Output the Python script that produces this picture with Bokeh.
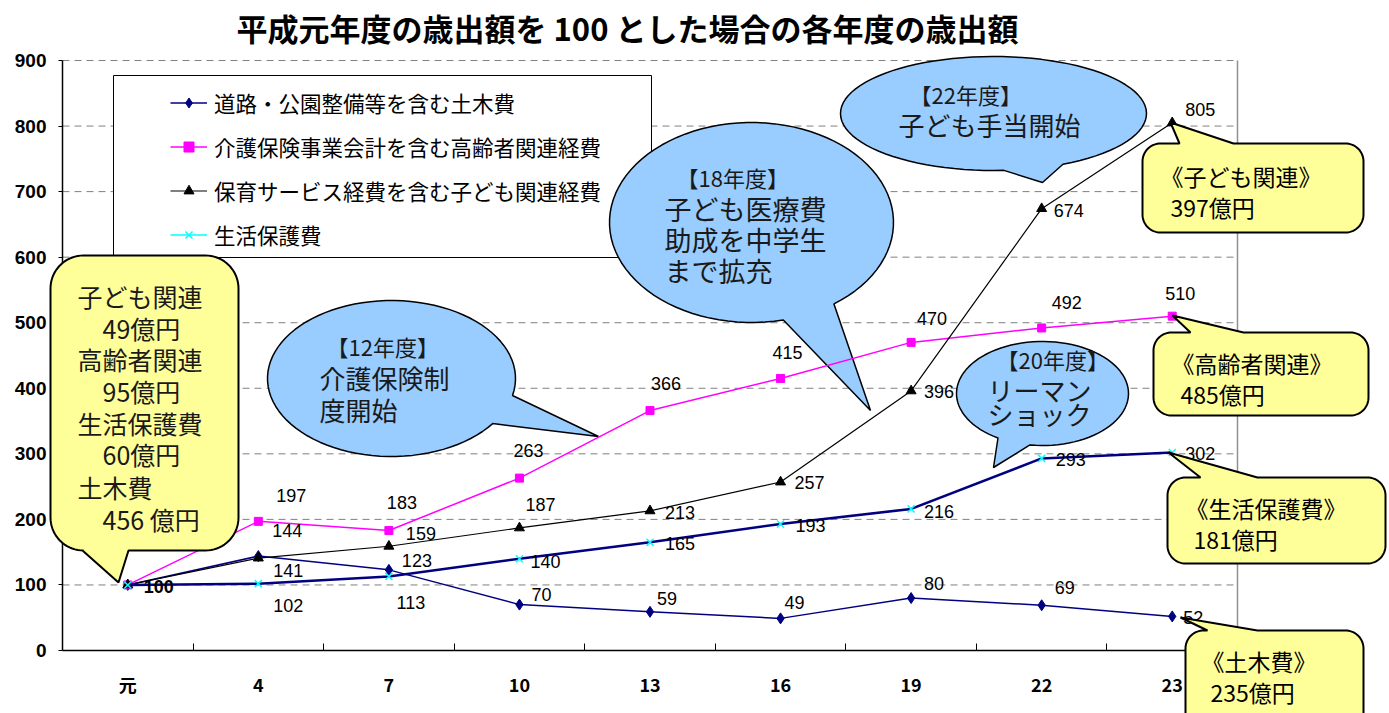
import math
from bokeh.plotting import figure
from bokeh.models import Range1d, LinearAxis, FixedTicker, Legend, LegendItem
from bokeh.core.properties import value
from bokeh.embed import file_html
from bokeh.resources import INLINE

# ---------------- data ----------------
categories = ["元", "4", "7", "10", "13", "16", "19", "22", "23"]
doboku = [100, 144, 123, 70, 59, 49, 80, 69, 52]
koureisha = [100, 197, 183, 263, 366, 415, 470, 492, 510]
kodomo = [100, 141, 159, 187, 213, 257, 396, 674, 805]
seikatsu = [100, 102, 113, 140, 165, 193, 216, 293, 302]
y_ticks = [0, 100, 200, 300, 400, 500, 600, 700, 800, 900]
series_labels = ["道路・公園整備等を含む土木費",
                 "介護保険事業会計を含む高齢者関連経費",
                 "保育サービス経費を含む子ども関連経費",
                 "生活保護費"]
title_text = "平成元年度の歳出額を 100 とした場合の各年度の歳出額"

# data-label offsets in screen px (dx, dy downwards)
doboku_off = [(31, 2), (29, -26), (28, -9), (22, -10), (17, -13), (14, -16), (23, -15), (23, -18), (21, 1)]
koureisha_off = [(0, 0), (33, -26), (13, -28), (9, -28), (16, -27), (7, -26), (21, -24), (25, -25), (8, -23)]
kodomo_off = [(0, 0), (30, 12), (32, -13), (21, -23), (30, 2), (29, 0), (28, 1), (27, 2), (28, -13)]
seikatsu_off = [(0, 0), (30, 22), (22, 26), (26, 3), (30, 1), (30, 2), (28, 3), (29, 1), (28, 1)]

# ---------------- geometry helpers ----------------
W, H = 1389, 713
PL, PR, PT, PB = 62, 1237, 60, 650
n = len(categories)
XS = (PR - PL) / n
YS = (PB - PT) / y_ticks[-1]


def X(px):
    return (px - PL) / XS - 0.5


def Y(py):
    return (PB - py) / YS


JP = "Noto Sans CJK JP"
NUM = "Liberation Sans"

p = figure(width=W, height=H, x_range=Range1d(X(0), X(W)), y_range=Range1d(Y(H), Y(0)),
           x_axis_type=None, y_axis_type=None, output_backend="svg",
           toolbar_location=None, min_border=0, outline_line_color=None, title=None)
p.background_fill_color = "white"
p.border_fill_color = "white"

xi = list(range(n))

# ---------------- axes ----------------
xaxis = LinearAxis(fixed_location=0, bounds=(-0.5, n - 0.5),
                   ticker=FixedTicker(ticks=xi, minor_ticks=[i + 0.5 for i in range(n - 1)]),
                   major_label_overrides={i: c for i, c in enumerate(categories)})
xaxis.level = "underlay"
xaxis.axis_line_color = "black"
xaxis.axis_line_width = 1.5
xaxis.major_tick_line_color = None
xaxis.major_tick_in = 0
xaxis.major_tick_out = 0
xaxis.minor_tick_in = 7
xaxis.minor_tick_out = 0
xaxis.minor_tick_line_color = "black"
xaxis.major_label_standoff = 20
xaxis.major_label_text_font = JP
xaxis.major_label_text_font_size = "18px"
xaxis.major_label_text_font_style = "bold"
xaxis.major_label_text_color = "black"
p.add_layout(xaxis, "below")

yaxis = LinearAxis(fixed_location=-0.5, bounds=(0, y_ticks[-1]), ticker=FixedTicker(ticks=y_ticks))
yaxis.level = "underlay"
yaxis.axis_line_color = "black"
yaxis.axis_line_width = 1.5
yaxis.major_tick_in = 0
yaxis.major_tick_out = 4
yaxis.major_tick_line_color = "black"
yaxis.minor_tick_line_color = None
yaxis.major_label_standoff = 12
yaxis.major_label_text_font = NUM
yaxis.major_label_text_font_size = "19px"
yaxis.major_label_text_font_style = "bold"
yaxis.major_label_text_color = "black"
p.add_layout(yaxis, "left")

# dashed gridlines
gy = y_ticks[1:]
p.segment(x0=[-0.5] * len(gy), x1=[n - 0.5] * len(gy), y0=gy, y1=gy,
          line_color="#808080", line_width=1, line_dash="7 5", level="underlay")
# right edge of plot area
p.segment(x0=[n - 0.5], x1=[n - 0.5], y0=[0], y1=[y_ticks[-1]], line_color="#909090", line_width=1.5)

# legend frame
p.quad(left=[X(113)], right=[X(651)], top=[Y(75)], bottom=[Y(257)],
       fill_color="white", line_color="black", line_width=1, level="underlay")


# ---------------- callout shapes ----------------
def arc(cx, cy, rx, ry, t0, t1, k=18):
    return [(cx + rx * math.cos(t0 + (t1 - t0) * j / k), cy + ry * math.sin(t0 + (t1 - t0) * j / k))
            for j in range(k + 1)]


def bubble(cx, cy, rx, ry, b1, b2, tip):
    a = math.atan2((b1[1] - cy) / ry, (b1[0] - cx) / rx) % (2 * math.pi)
    b = math.atan2((b2[1] - cy) / ry, (b2[0] - cx) / rx) % (2 * math.pi)
    if (b - a) % (2 * math.pi) > math.pi:
        a, b = b, a
    end = a
    while end < b:
        end += 2 * math.pi
    while end - b > 2 * math.pi:
        end -= 2 * math.pi
    pts = arc(cx, cy, rx, ry, b, end, 90)
    pts.append(tip)
    return [X(q[0]) for q in pts], [Y(q[1]) for q in pts]


def rcallout(x0, y0, x1, y1, r, side, b1, b2, tip):
    pts = [(x0 + r, y0)]
    if side == "top":
        pts += [(b1, y0), tip, (b2, y0)]
    pts += arc(x1 - r, y0 + r, r, r, -math.pi / 2, 0)
    pts += arc(x1 - r, y1 - r, r, r, 0, math.pi / 2)
    if side == "bottom":
        pts += [(b2, y1), tip, (b1, y1)]
    pts += arc(x0 + r, y1 - r, r, r, math.pi / 2, math.pi)
    pts += arc(x0 + r, y0 + r, r, r, math.pi, 1.5 * math.pi)
    return [X(q[0]) for q in pts], [Y(q[1]) for q in pts]


def txt(px, py, s, size, align="left", bold=False, color="#1a1a1a", font=JP):
    p.text(x=[X(px)], y=[Y(py)], text=[s], text_font=value(font), text_font_size=size,
           text_align=align, text_baseline="middle", text_color=color,
           text_font_style="bold" if bold else "normal")


BLUE = "#99CCFF"
YEL = "#FFFF99"

for shape in [bubble(391, 378, 124, 78, (512, 395), (492, 423), (598, 436)),
              bubble(751, 222, 142, 100, (833, 303), (783, 320), (870, 410)),
              bubble(993, 113, 153, 57, (1003, 168), (1060, 162), (1042, 182)),
              bubble(1042, 393, 86, 52, (998, 437), (1030, 442), (993, 467))]:
    p.patch(shape[0], shape[1], fill_color=BLUE, line_color="black", line_width=1.5)

txt(326, 345, "【12年度】", "22px")
txt(319, 377, "介護保険制", "26px")
txt(319, 409, "度開始", "26px")
txt(676, 176, "【18年度】", "22px")
txt(664, 208, "子ども医療費", "27px")
txt(664, 239, "助成を中学生", "27px")
txt(664, 270, "まで拡充", "27px")
txt(909, 93, "【22年度】", "22px")
txt(898, 124, "子ども手当開始", "26px")
txt(996, 358, "【20年度】", "22px")
txt(987, 389, "リーマン", "26px")
txt(987, 413, "ショック", "26px")

# ---------------- series ----------------
r1l = p.line(xi, doboku, line_color="#000080", line_width=1.5)
r1p = p.scatter(xi, doboku, marker="diamond", size=11, fill_color="#000080", line_color="#000080")
r2l = p.line(xi, koureisha, line_color="#FF00FF", line_width=1.5)
r2p = p.scatter(xi, koureisha, marker="square", size=8, fill_color="#FF00FF", line_color="#FF00FF")
r3l = p.line(xi, kodomo, line_color="black", line_width=1.2)
r3p = p.scatter(xi, kodomo, marker="triangle", size=10, fill_color="black", line_color="black")
r4l = p.line(xi, seikatsu, line_color="#000080", line_width=2.5)
# legend-only sample line for the 生活保護費 entry (placed outside the visible range)
r4leg = p.line(x=[-20, -19], y=[-2000, -2000], line_color="#00FFFF", line_width=1.5)
r4p = p.scatter(xi, seikatsu, marker="x", size=10, line_color="#00FFFF", line_width=1.5)

# data labels
for vals, offs, skip_first in [(doboku, doboku_off, False), (koureisha, koureisha_off, True),
                               (kodomo, kodomo_off, True), (seikatsu, seikatsu_off, True)]:
    idx = [i for i in xi if not (skip_first and i == 0)]
    p.text(x=[xi[i] for i in idx], y=[vals[i] for i in idx], text=[str(vals[i]) for i in idx],
           x_offset=[offs[i][0] for i in idx], y_offset=[offs[i][1] for i in idx],
           text_font=value(NUM), text_font_size="18px", text_align="center",
           text_baseline="middle", text_color="black",
           text_font_style=["bold" if i == 0 else "normal" for i in idx])

# ---------------- yellow callouts ----------------
for shape in [rcallout(50, 255, 238, 550, 33, "bottom", 82, 128, (118, 582)),
              rcallout(1142, 143, 1363, 232, 18, "top", 1179, 1233, (1170, 122)),
              rcallout(1153, 332, 1368, 415, 18, "top", 1190, 1243, (1172, 315)),
              rcallout(1167, 477, 1385, 563, 18, "top", 1200, 1257, (1168, 452)),
              rcallout(1185, 630, 1363, 740, 18, "top", 1207, 1257, (1180, 617))]:
    p.patch(shape[0], shape[1], fill_color=YEL, line_color="black", line_width=2)

left_lines = [("子ども関連", 77, 295), ("49億円", 102, 327), ("高齢者関連", 77, 358), ("95億円", 102, 390),
              ("生活保護費", 77, 422), ("60億円", 102, 453), ("土木費", 77, 486), ("456 億円", 102, 518)]
for s, lx, ly in left_lines:
    txt(lx, ly, s, "25px")

txt(1160, 175, "《子ども関連》", "23px", color="black")
txt(1170, 206, "397億円", "23px", color="black")
txt(1171, 362, "《高齢者関連》", "23px", color="black")
txt(1180, 393, "485億円", "23px", color="black")
txt(1185, 507, "《生活保護費》", "23px", color="black")
txt(1193, 538, "181億円", "23px", color="black")
txt(1201, 660, "《土木費》", "23px", color="black")
txt(1210, 691, "235億円", "23px", color="black")

# title
txt(627, 27, title_text, "31px", align="center", bold=True, color="black")

# ---------------- legend ----------------
legend = Legend(items=[LegendItem(label=series_labels[0], renderers=[r1l, r1p]),
                       LegendItem(label=series_labels[1], renderers=[r2l, r2p]),
                       LegendItem(label=series_labels[2], renderers=[r3l, r3p]),
                       LegendItem(label=series_labels[3], renderers=[r4leg, r4p])],
                location=(170, 459), orientation="vertical")
legend.border_line_color = None
legend.background_fill_alpha = 0
legend.padding = 0
legend.margin = 0
legend.spacing = 4
legend.glyph_width = 37
legend.glyph_height = 25
legend.label_height = 40
legend.label_standoff = 7
legend.label_text_font = JP
legend.label_text_font_size = "21.5px"
legend.label_text_color = "black"
legend.label_text_baseline = "middle"
p.add_layout(legend, "center")

open("out.html", "w").write(file_html(p, INLINE))
